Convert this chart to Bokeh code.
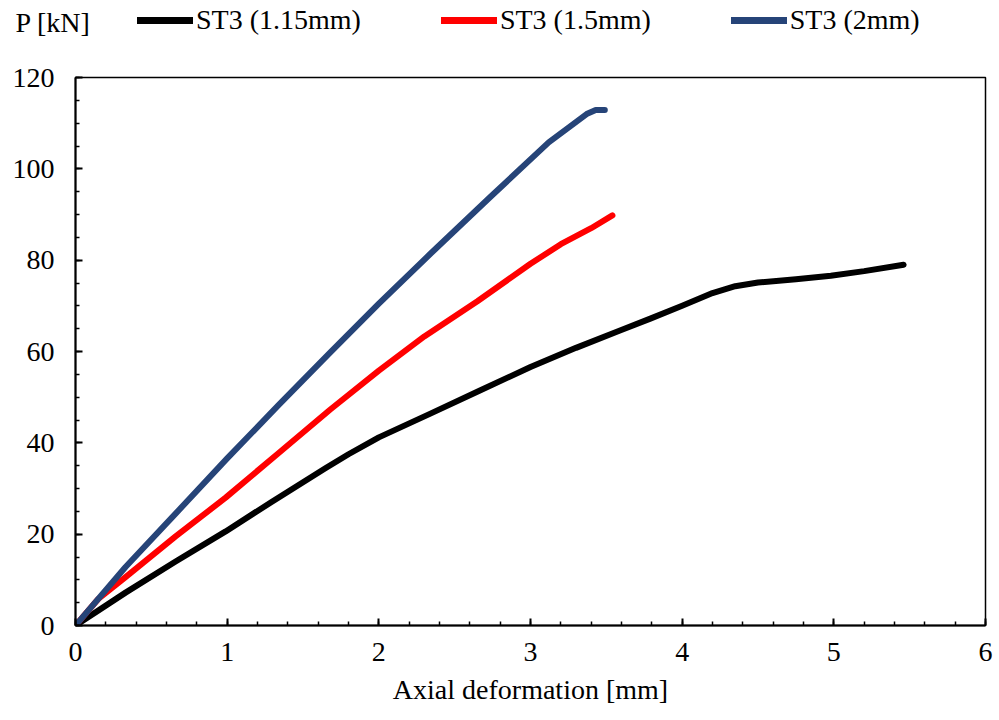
from bokeh.plotting import figure
from bokeh.layouts import column
from bokeh.models import Range1d, SingleIntervalTicker, Legend, LegendItem, Label
from bokeh.embed import file_html
from bokeh.resources import INLINE

# ST3 (1.15mm)
x_115 = [0, 0.33, 0.66, 0.99, 1.29, 1.65, 1.8, 2.0, 2.34, 2.67, 3.0, 3.3, 3.59, 3.79, 4.0, 4.2, 4.35, 4.5, 4.75, 4.98, 5.2, 5.46]
p_115 = [0, 7.2, 14.0, 20.6, 27.0, 34.5, 37.5, 41.2, 46.4, 51.5, 56.6, 60.8, 64.6, 67.2, 70.0, 72.8, 74.3, 75.1, 75.8, 76.6, 77.6, 79.0]
# ST3 (1.5mm)
x_15 = [0, 0.15, 0.33, 0.66, 0.99, 1.33, 1.68, 2.0, 2.3, 2.65, 3.0, 3.2, 3.4, 3.54]
p_15 = [0, 5.8, 10.6, 19.5, 28.0, 37.5, 47.3, 55.8, 63.3, 71.0, 79.2, 83.5, 87.0, 89.8]
# ST3 (2mm)
x_2 = [0, 0.33, 0.66, 1.0, 1.34, 1.68, 2.0, 2.34, 2.74, 3.12, 3.37, 3.43, 3.49]
p_2 = [0, 12.8, 24.5, 36.6, 48.3, 59.8, 70.5, 81.4, 94.0, 105.8, 112.0, 112.9, 112.9]

series_names = ["ST3 (1.15mm)", "ST3 (1.5mm)", "ST3 (2mm)"]
colors = ["#000000", "#ff0000", "#264478"]
y_title = "P [kN]"
x_title = "Axial deformation [mm]"

FONT = "Liberation Serif"
FS = "28px"
LW = 6
HEAD_H = 50
NAN = float("nan")

# ---- main plot ----
p = figure(width=999, height=720 - HEAD_H, output_backend="svg", toolbar_location=None,
           x_range=Range1d(0, 6), y_range=Range1d(0, 120),
           min_border_left=75, min_border_right=14, min_border_top=77 - HEAD_H, min_border_bottom=95)
p.grid.visible = False
p.outline_line_color = "black"
p.outline_line_width = 1.5
p.frame_align = False

for xs, ys, c in zip([x_115, x_15, x_2], [p_115, p_15, p_2], colors):
    p.line(xs, ys, line_color=c, line_width=LW, line_cap="round", line_join="round")

p.xaxis.ticker = SingleIntervalTicker(interval=1, num_minor_ticks=5)
p.yaxis.ticker = SingleIntervalTicker(interval=20, num_minor_ticks=4)
for ax in (p.xaxis, p.yaxis):
    ax.axis_line_width = 2
    ax.axis_line_color = "black"
    ax.major_tick_in = 7
    ax.major_tick_out = 0
    ax.minor_tick_in = 4
    ax.minor_tick_out = 0
    ax.major_tick_line_width = 2
    ax.minor_tick_line_width = 1.5
    ax.major_label_text_font = FONT
    ax.major_label_text_font_size = FS
    ax.major_label_text_color = "black"
p.xaxis.major_label_standoff = 17
p.yaxis.major_label_standoff = 21
p.xaxis.axis_label = x_title
p.xaxis.axis_label_text_font = FONT
p.xaxis.axis_label_text_font_size = FS
p.xaxis.axis_label_text_font_style = "normal"
p.xaxis.axis_label_text_color = "black"
p.xaxis.axis_label_standoff = 10

# ---- header strip with legend and y title ----
head = figure(width=999, height=HEAD_H, output_backend="svg", toolbar_location=None,
              x_range=Range1d(0, 999), y_range=Range1d(0, HEAD_H),
              x_axis_type=None, y_axis_type=None, min_border=0)
head.grid.visible = False
head.outline_line_color = None
head.frame_align = False

items = []
for name, c in zip(series_names, colors):
    r = head.line([NAN], [NAN], line_color=c, line_width=7, line_cap="round")
    items.append(LegendItem(label=name, renderers=[r]))

legend = Legend(items=items, orientation="horizontal", location=(137, 14),
                border_line_color=None, background_fill_alpha=0,
                glyph_width=56, glyph_height=28, label_height=28, label_standoff=3, spacing=80,
                padding=0, margin=0, label_text_font=FONT, label_text_font_size=FS,
                label_text_color="black")
head.add_layout(legend, "center")

head.add_layout(Label(x=15, y=HEAD_H - 22, text=y_title,
                      text_font=FONT, text_font_size=FS, text_baseline="middle",
                      text_align="left", text_color="black"))

page = column(head, p, spacing=0)
open("out.html", "w").write(file_html(page, INLINE))
